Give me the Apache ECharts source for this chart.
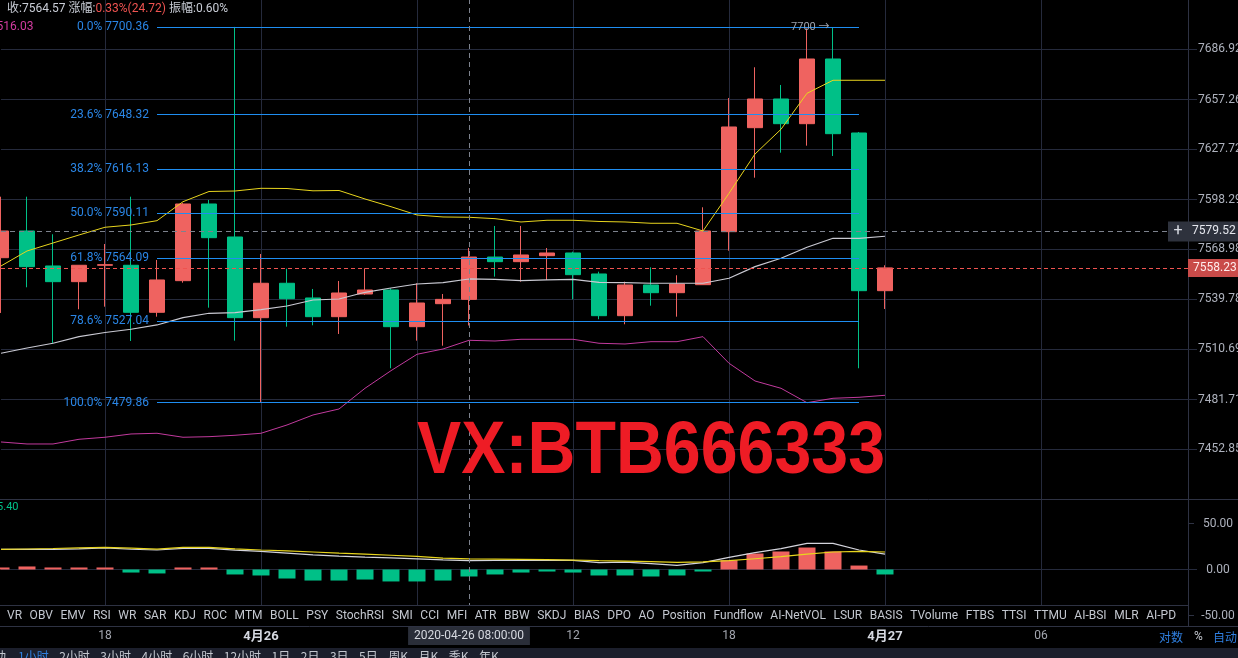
<!DOCTYPE html>
<html>
<head>
<meta charset="utf-8">
<script src="https://cdn.jsdelivr.net/npm/echarts@6.0.0/dist/echarts.min.js"></script>
<style>
html,body{margin:0;padding:0;background:#000;overflow:hidden;}
#chart{width:1238px;height:658px;}
</style>
</head>
<body>
<div id="chart"></div>
<script>
// ---------------- DATA ----------------
const categories = [
  '2020-04-25 14:00','2020-04-25 15:00','2020-04-25 16:00','2020-04-25 17:00','2020-04-25 18:00',
  '2020-04-25 19:00','2020-04-25 20:00','2020-04-25 21:00','2020-04-25 22:00','2020-04-25 23:00',
  '2020-04-26 00:00','2020-04-26 01:00','2020-04-26 02:00','2020-04-26 03:00','2020-04-26 04:00',
  '2020-04-26 05:00','2020-04-26 06:00','2020-04-26 07:00','2020-04-26 08:00','2020-04-26 09:00',
  '2020-04-26 10:00','2020-04-26 11:00','2020-04-26 12:00','2020-04-26 13:00','2020-04-26 14:00',
  '2020-04-26 15:00','2020-04-26 16:00','2020-04-26 17:00','2020-04-26 18:00','2020-04-26 19:00',
  '2020-04-26 20:00','2020-04-26 21:00','2020-04-26 22:00','2020-04-26 23:00','2020-04-27 00:00',
  '2020-04-27 01:00','2020-04-27 02:00','2020-04-27 03:00','2020-04-27 04:00','2020-04-27 05:00',
  '2020-04-27 06:00','2020-04-27 07:00','2020-04-27 08:00','2020-04-27 09:00','2020-04-27 10:00',
  '2020-04-27 11:00','2020-04-27 12:00'
];
const opens  = [7564.19,7579.82,7559.34,7550.18,7559.75,7559.75,7532.32,7550.76,7595.65,7576.30,
                7529.19,7549.24,7540.66,7529.77,7542.99,7545.32,7523.95,7537.34,7539.85,7564.57,
                7561.86,7565.36,7566.94,7554.67,7530.35,7548.25,7543.75,7548.42,7579.41,7640.60,
                7657.56,7642.96,7681.28,7637.46,7544.92];
const closes = [7579.82,7558.94,7550.18,7559.75,7560.10,7532.32,7551.17,7595.65,7575.90,7529.19,
                7549.24,7540.25,7529.77,7543.57,7545.32,7523.95,7537.74,7539.85,7564.57,7561.86,
                7565.77,7566.94,7554.26,7530.35,7548.25,7543.75,7548.83,7579.82,7641.01,7657.56,
                7642.96,7681.28,7637.05,7544.92,7558.23];
const highs  = [7599.94,7599.94,7577.89,7559.75,7572.20,7599.94,7562.85,7596.20,7598.00,7700.36,
                7566.35,7557.77,7545.91,7550.57,7558.00,7546.31,7549.24,7542.99,7569.90,7582.76,
                7582.76,7569.86,7567.70,7556.01,7550.18,7558.57,7553.91,7593.72,7658.15,7676.36,
                7665.86,7699.50,7700.00,7638.05,7559.75];
const lows   = [7531.93,7546.90,7514.30,7534.08,7535.59,7515.63,7529.77,7549.59,7535.01,7515.81,
                7479.86,7523.95,7524.77,7519.71,7542.50,7499.79,7515.81,7512.90,7524.66,7553.10,
                7550.18,7551.17,7539.90,7528.26,7525.35,7536.17,7529.77,7548.42,7568.28,7611.12,
                7625.84,7629.97,7623.89,7499.79,7534.25];
const bollUpper = [7559.34,7568.10,7572.79,7577.48,7582.00,7583.34,7585.86,7597.00,7603.00,7603.28,
                   7604.87,7604.75,7603.40,7603.58,7598.59,7594.07,7589.20,7588.03,7587.86,7587.04,
                   7585.10,7586.10,7586.10,7585.40,7585.10,7584.34,7584.34,7579.82,7601.94,7625.07,
                   7639.65,7660.94,7668.65,7668.65,7668.65];
const bollMid   = [7508.49,7511.56,7514.30,7518.14,7520.58,7522.44,7524.95,7529.19,7531.75,7532.10,
                   7533.85,7536.00,7539.49,7540.07,7543.98,7546.49,7548.83,7549.59,7551.75,7551.57,
                   7550.76,7551.17,7551.57,7549.82,7549.59,7549.24,7549.24,7549.24,7552.16,7558.94,
                   7563.84,7570.27,7575.54,7575.54,7576.72];
const bollLower = [7457.18,7456.03,7456.03,7458.74,7459.90,7461.80,7462.20,7459.90,7460.24,7461.05,
                   7462.20,7466.99,7472.76,7476.22,7488.20,7498.40,7507.91,7510.98,7516.03,7515.63,
                   7516.62,7516.62,7516.62,7514.30,7513.89,7515.23,7515.23,7518.14,7502.69,7492.43,
                   7488.20,7479.86,7482.41,7482.99,7484.15];
const histValues = [2.2,3.3,2.2,2.2,2.2,-3.3,-4.3,2.2,2.2,-5.4,
                    -6.5,-9.8,-12.0,-12.0,-10.9,-13.0,-13.0,-12.0,-7.6,-5.4,
                    -3.3,-2.2,-3.3,-6.5,-6.5,-7.6,-6.5,-2.2,10.1,17.4,
                    19.6,23.9,19.6,4.3,-5.4];
const subLineWhite  = [21.9,21.9,21.9,22.5,23.4,22.0,21.2,23.0,23.0,21.0,
                       19.7,17.8,15.8,14.5,13.5,12.6,11.5,10.5,9.6,9.8,
                       10.0,10.0,10.0,7.5,8.0,6.3,4.5,7.4,13.2,18.4,
                       22.7,28.4,28.4,21.2,16.8];
const subLineYellow = [21.9,22.3,22.8,23.4,24.0,23.2,22.1,24.1,24.1,22.5,
                       21.2,20.2,19.0,17.8,16.8,15.5,14.2,12.4,11.6,11.3,
                       11.1,10.7,10.3,9.6,9.2,8.5,7.8,8.2,9.6,11.7,
                       13.9,16.8,19.0,19.7,19.0];
const fibRatios = ['0.0%','23.6%','38.2%','50.0%','61.8%','78.6%','100.0%'];
const fibPrices = [7700.36,7648.32,7616.13,7590.11,7564.09,7527.04,7479.86];
const priceTicks = [7686.92,7657.26,7627.72,7598.29,7568.98,7539.78,7510.69,7481.71,7452.85];
const subTicks = [50,0,-50];
const crosshairPrice = 7579.52;
const hoverIndex = 18;
const fibStartIndex = 6, fibEndIndex = 33;
const maxMarkIndex = 32;
const tabLabels = ['VR','OBV','EMV','RSI','WR','SAR','KDJ','ROC','MTM','BOLL','PSY','StochRSI','SMI','CCI','MFI',
  'ATR','BBW','SKDJ','BIAS','DPO','AO','Position','Fundflow','AI-NetVOL','LSUR','BASIS','TVolume','FTBS',
  'TTSI','TTMU','AI-BSI','MLR','AI-PD'];
const periodLabels = ['1小时','2小时','3小时','4小时','6小时','12小时','1日','2日','3日','5日','周K','月K','季K','年K'];
const watermark = 'VX:BTB666333';

// ---------------- STYLE ----------------
const RED = '#ef6360', GREEN = '#00c087';
const GRID_COL = '#252a3c', SEP_COL = '#2e3243';
const FONT = 'Roboto, "Noto Sans CJK SC", sans-serif';
const LBL = '#aeb2bd';

const candleData = opens.map((o, i) => [o, closes[i], lows[i], highs[i]]);
const splitInt = (i) => i % 6 === 4 && i < 46;

function timeLabel(v) {
  const hh = v.slice(11, 13);
  if (hh === '00') return '{d|' + parseInt(v.slice(5, 7), 10) + '月' + parseInt(v.slice(8, 10), 10) + '}';
  return hh;
}

const chart = echarts.init(document.getElementById('chart'), null, {width: 1238, height: 658});

const dashGray = {color: '#7d828d', width: 1, type: [5, 4]};

const fibLines = fibPrices.map((p, k) => [
  {coord: [categories[fibStartIndex], p],
   lineStyle: {color: '#1f8ef1', width: 1, type: 'solid'},
   label: {show: true, position: 'start', distance: 8, formatter: fibRatios[k] + ' ' + p.toFixed(2),
           color: '#2a86e6', fontSize: 12, fontFamily: FONT}},
  {coord: [categories[fibEndIndex], p]}
]);

const lastPrice = closes[closes.length - 1];

const option = {
  backgroundColor: '#000',
  animation: false,
  textStyle: {fontFamily: FONT},
  grid: [
    {left: 1, right: 41, top: 0, height: 499},
    {left: 1, right: 41, top: 499, height: 127}
  ],
  xAxis: [
    {type: 'category', gridIndex: 0, data: categories, boundaryGap: false,
     axisLine: {show: false}, axisTick: {show: false}, axisLabel: {show: false},
     splitLine: {show: true, interval: splitInt, lineStyle: {color: GRID_COL, width: 1}}},
    {type: 'category', gridIndex: 1, data: categories, boundaryGap: false,
     axisLine: {show: false}, axisTick: {show: false},
     axisLabel: {show: true, interval: splitInt, margin: 4, color: '#a3a6af', fontSize: 12,
                 formatter: timeLabel,
                 rich: {d: {fontWeight: 'bold', color: '#d5d8e0', fontSize: 13}}},
     splitLine: {show: true, interval: splitInt, lineStyle: {color: GRID_COL, width: 1}}}
  ],
  yAxis: [
    {type: 'log', gridIndex: 0, position: 'right', offset: -9, min: 7424.38, max: 7716.39,
     axisLine: {show: true, lineStyle: {color: SEP_COL}}, axisTick: {show: false},
     axisLabel: {show: false}, splitLine: {show: false}},
    {type: 'value', gridIndex: 1, position: 'right', offset: -9, min: -61.41, max: 76.63,
     axisLine: {show: true, lineStyle: {color: SEP_COL}},
     axisTick: {show: true, customValues: subTicks, length: 6, lineStyle: {color: SEP_COL}},
     axisLabel: {show: true, customValues: subTicks, margin: 10,
                 formatter: (v) => '{a|' + v.toFixed(2) + '}',
                 rich: {a: {width: 40, align: 'center', color: LBL, fontSize: 12}}},
     splitLine: {show: false}}
  ],
  series: [
    // main grid horizontal lines + price labels
    {type: 'line', xAxisIndex: 0, yAxisIndex: 0, data: [], silent: true,
     markLine: {silent: true, z: 1, symbol: ['none', 'none'], animation: false,
       lineStyle: {color: GRID_COL, width: 1, type: 'solid'},
       label: {show: true, position: 'end', distance: 1, color: LBL, fontSize: 12, fontFamily: FONT,
               formatter: (p) => Number(p.value).toFixed(2)},
       emphasis: {disabled: true},
       data: priceTicks.map((v) => ({yAxis: v}))}},
    {type: 'candlestick', xAxisIndex: 0, yAxisIndex: 0, barWidth: 16, data: candleData,
     itemStyle: {color: RED, color0: GREEN, borderColor: RED, borderColor0: GREEN, borderWidth: 1}},
    {type: 'line', xAxisIndex: 0, yAxisIndex: 0, data: bollUpper, symbol: 'none', silent: true,
     lineStyle: {color: '#e8d51e', width: 1}},
    {type: 'line', xAxisIndex: 0, yAxisIndex: 0, data: bollMid, symbol: 'none', silent: true,
     lineStyle: {color: '#c9c9d2', width: 1.2}},
    {type: 'line', xAxisIndex: 0, yAxisIndex: 0, data: bollLower, symbol: 'none', silent: true,
     lineStyle: {color: '#c23a9e', width: 1}},
    // overlays: fib, price line, crosshair
    {type: 'line', xAxisIndex: 0, yAxisIndex: 0, data: [], silent: true,
     markLine: {silent: true, z: 5, symbol: ['none', 'none'], animation: false,
       emphasis: {disabled: true},
       data: fibLines.concat([
         {yAxis: lastPrice, lineStyle: {color: '#ef5350', width: 1, type: [4, 3]},
          label: {show: true, position: 'end', distance: -9, formatter: lastPrice.toFixed(2),
                  color: '#ffecec', backgroundColor: '#c94b49', padding: [3, 6, 3, 5], fontSize: 12}},
         {yAxis: crosshairPrice, lineStyle: dashGray,
          label: {show: true, position: 'end', distance: -29,
                  formatter: '{p|+}{v|' + crosshairPrice.toFixed(2) + '}',
                  backgroundColor: '#2e323d', padding: [2, 0, 2, 0],
                  rich: {p: {width: 20, align: 'center', fontSize: 16, color: '#d8dbe2'},
                         v: {color: '#e6e8ee', fontSize: 12, padding: [0, 6, 0, 4]}}}},
         {xAxis: categories[hoverIndex], lineStyle: dashGray, label: {show: false}}
       ])},
     markPoint: {silent: true, symbol: 'circle', symbolSize: 1, itemStyle: {color: 'rgba(0,0,0,0)'},
       label: {show: true, position: 'left', distance: 3, color: '#9ea3ae', fontSize: 11,
               formatter: (p) => p.value + ' →'},
       data: [{coord: [categories[maxMarkIndex], highs[maxMarkIndex]], value: highs[maxMarkIndex]}]}},
    // sub grid
    {type: 'line', xAxisIndex: 1, yAxisIndex: 1, data: [], silent: true,
     markLine: {silent: true, z: 1, symbol: ['none', 'none'], animation: false,
       lineStyle: {color: GRID_COL, width: 1, type: 'solid'}, label: {show: false},
       data: [{yAxis: 0}]}},
    {type: 'bar', xAxisIndex: 1, yAxisIndex: 1, barWidth: 17, data: histValues, silent: true,
     itemStyle: {color: (p) => (p.value >= 0 ? RED : GREEN)}},
    {type: 'line', xAxisIndex: 1, yAxisIndex: 1, data: subLineWhite, symbol: 'none', silent: true,
     lineStyle: {color: '#d4d4dc', width: 1.2}},
    {type: 'line', xAxisIndex: 1, yAxisIndex: 1, data: subLineYellow, symbol: 'none', silent: true,
     lineStyle: {color: '#e8d51e', width: 1.2}},
    {type: 'line', xAxisIndex: 1, yAxisIndex: 1, data: [], silent: true,
     markLine: {silent: true, z: 5, symbol: ['none', 'none'], animation: false,
       data: [{xAxis: categories[hoverIndex], lineStyle: dashGray,
               label: {show: true, position: 'start', distance: 0,
                       formatter: categories[hoverIndex] + ':00',
                       backgroundColor: '#2a2e39', color: '#d6d9e0', padding: [4, 6, 3, 6], fontSize: 12}}]}}
  ]
};

// ---------------- GRAPHIC (chrome) ----------------
const mctx = document.createElement('canvas').getContext('2d');
function textW(t, font) { mctx.font = font; return mctx.measureText(t).width; }

const graphics = [];
// header
const hc = closes[hoverIndex], hp = closes[hoverIndex - 1];
const chg = hc - hp;
const pct = chg / hp * 100;
const amp = (highs[hoverIndex] - lows[hoverIndex]) / hp * 100;
graphics.push({type: 'text', x: 7, y: 9, z: 100, silent: true,
  style: {text: '{g|收:' + hc.toFixed(2) + '} {g|涨幅:}{r|' + pct.toFixed(2) + '%(' + chg.toFixed(2) + ')} {g|振幅:' + amp.toFixed(2) + '%}',
          font: '12px ' + FONT, verticalAlign: 'middle',
          rich: {g: {fill: '#c9cdd6', font: '12px ' + FONT}, r: {fill: '#ef5350', font: '12px ' + FONT}}}});
graphics.push({type: 'text', x: 33.5, y: 27, z: 100, silent: true,
  style: {text: bollLower[hoverIndex].toFixed(2), fill: '#d23ca0', font: '12px ' + FONT, align: 'right', verticalAlign: 'middle'}});
graphics.push({type: 'text', x: 18.5, y: 507.5, z: 100, silent: true,
  style: {text: histValues[histValues.length - 1].toFixed(2), fill: '#00c087', font: '11px ' + FONT, align: 'right', verticalAlign: 'middle'}});

// separators
graphics.push({type: 'line', z: 90, silent: true, shape: {x1: 0, y1: 499.5, x2: 1238, y2: 499.5}, style: {stroke: SEP_COL, lineWidth: 1}});
// tab bar
graphics.push({type: 'rect', z: 90, silent: true, shape: {x: 0, y: 605, width: 1187.5, height: 21}, style: {fill: '#000'}});
graphics.push({type: 'line', z: 91, silent: true, shape: {x1: 0, y1: 605.5, x2: 1188, y2: 605.5}, style: {stroke: SEP_COL, lineWidth: 1}});
graphics.push({type: 'line', z: 91, silent: true, shape: {x1: 0, y1: 626.5, x2: 1238, y2: 626.5}, style: {stroke: SEP_COL, lineWidth: 1}});
const tabFont = '12px ' + FONT;
const tabWidths = tabLabels.map((t) => textW(t, tabFont));
const tabStart = 7, tabEnd = 1176;
const tabGap = (tabEnd - tabStart - tabWidths.reduce((a, b) => a + b, 0)) / (tabLabels.length - 1);
let tx = tabStart;
tabLabels.forEach((t, k) => {
  graphics.push({type: 'text', x: tx, y: 615.5, z: 92, silent: true,
    style: {text: t, fill: '#c3c7cf', font: tabFont, align: 'left', verticalAlign: 'middle'}});
  tx += tabWidths[k] + tabGap;
});
// right bottom switches
graphics.push({type: 'text', x: 1159, y: 637, z: 92, silent: true, style: {text: '对数', fill: '#2f7fe0', font: '12px "Noto Sans CJK SC", sans-serif', verticalAlign: 'middle'}});
graphics.push({type: 'text', x: 1194, y: 637, z: 92, silent: true, style: {text: '%', fill: '#c3c7cf', font: '12px ' + FONT, verticalAlign: 'middle'}});
graphics.push({type: 'text', x: 1213, y: 637, z: 92, silent: true, style: {text: '自动', fill: '#2f7fe0', font: '12px "Noto Sans CJK SC", sans-serif', verticalAlign: 'middle'}});
// bottom bar
graphics.push({type: 'rect', z: 92, silent: true, shape: {x: 0, y: 648, width: 1238, height: 10}, style: {fill: '#1c1f2c'}});
const perFont = '12px "Noto Sans CJK SC", sans-serif';
graphics.push({type: 'text', x: 6, y: 650, z: 93, silent: true, style: {text: '动', fill: '#c3c7cf', font: perFont, align: 'right', verticalAlign: 'top'}});
let px = 18;
periodLabels.forEach((t, k) => {
  graphics.push({type: 'text', x: px, y: 650, z: 93, silent: true,
    style: {text: t, fill: k === 0 ? '#2f7fe0' : '#c3c7cf', font: perFont, align: 'left', verticalAlign: 'top'}});
  px += textW(t, perFont) + 10.5;
});
// watermark
const wmFont = 'bold 74px "Liberation Sans", Arial, sans-serif';
const wmScale = 468 / textW(watermark, wmFont);
graphics.push({type: 'text', x: 417, y: 453, scaleX: wmScale, z: 60, silent: true,
  style: {text: watermark, fill: '#ee1c25', font: wmFont, align: 'left', verticalAlign: 'middle'}});

option.graphic = {elements: graphics};
chart.setOption(option);
</script>
</body>
</html>
